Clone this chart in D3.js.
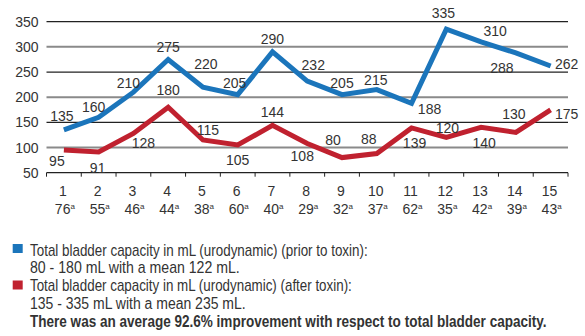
<!DOCTYPE html>
<html><head><meta charset="utf-8">
<script src="https://cdn.jsdelivr.net/npm/d3@7"></script>
<style>
html,body{margin:0;padding:0;background:#fff;}
svg{display:block;}
text{font-family:"Liberation Sans",Arial,sans-serif;fill:#333;}
</style></head><body>
<svg id="chart" width="585" height="336"></svg>
<script>
// ---- data ----
const patients = ["1","2","3","4","5","6","7","8","9","10","11","12","13","14","15"];
const ages = ["76","55","46","44","38","60","40","29","32","37","62","35","42","39","43"];
const bluevalues = [135,160,210,275,220,205,290,232,205,215,188,335,310,288,262];
const redValues = [95,91,128,180,115,105,144,108,80,88,139,120,140,130,175];
const yTicks = [50,100,150,200,250,300,350];
const legendLines = [
  "Total bladder capacity in mL (urodynamic) (prior to toxin):",
  "80 - 180 mL with a mean 122 mL.",
  "Total bladder capacity in mL (urodynamic) (after toxin):",
  "135 - 335 mL with a mean 235 mL."
];
const footnote = "There was an average 92.6% improvement with respect to total bladder capacity.";

// label offsets (placement of value labels relative to their point)
const blueOff = [[-2,-9],[-5,-5],[-5,-4],[0,-7],[3,-18],[-3,-6.5],[0,-8],[6,-11],[0,-6.5],[-1,-4.5],[18,11],[-3,-11.5],[14,-6],[-14,20],[16,3]];
const redOff = [[-7,16],[-1,21],[10,15],[0,-12],[5,-5],[0,20],[0,-8],[-5,17.5],[-9,-12.6],[-8,-9.6],[3,20],[1,-4.5],[3,20.6],[-2,-13.4],[16,9]];
// rendered widths of the condensed legend lines
const legendWidths = [338, 210, 322, 216];
const footWidth = 517;

const BLUE = "#1b75bb", RED = "#c0212f";
const svg = d3.select("#chart");
const x = d3.scaleBand().domain(patients).range([46.5, 568]).padding(0);
const y = d3.scaleLinear().domain([50,350]).range([172.7, 21.7]);
const cx = d => x(d) + x.bandwidth()/2;

// gridlines
svg.append("g").selectAll("line").data(yTicks.filter(v => v > 50)).join("line")
  .attr("x1", 46.5).attr("x2", 568)
  .attr("y1", d => y(d)).attr("y2", d => y(d))
  .attr("stroke", d => (d % 100 === 0) ? "#8a8a8a" : "#222")
  .attr("stroke-width", d => (d % 100 === 0) ? 2 : 1.2);

// y axis labels
const yAxis = d3.axisLeft(y).tickValues(yTicks).tickSize(0).tickPadding(0).tickFormat(d3.format("d"));
const gy = svg.append("g").attr("transform", "translate(38.5,0)").call(yAxis);
gy.select(".domain").remove();
gy.selectAll("text").attr("font-size", 14).attr("fill", "#333")
  .style("font-family", '"Liberation Sans",Arial,sans-serif');

// x axis line and ticks at band boundaries
const bounds = patients.map(p => x(p)).concat([x.range()[1]]);
svg.append("line").attr("x1", 46.5).attr("x2", 568).attr("y1", y(50)).attr("y2", y(50))
  .attr("stroke", "#222").attr("stroke-width", 1.2);
svg.append("g").selectAll("line").data(bounds).join("line")
  .attr("x1", d => d).attr("x2", d => d).attr("y1", y(50)).attr("y2", y(50) + 4)
  .attr("stroke", "#222").attr("stroke-width", 1);

// category labels
const cat = svg.append("g").selectAll("g").data(patients).join("g");
cat.append("text").attr("x", d => cx(d) - 1).attr("y", 196).attr("text-anchor", "middle")
  .attr("font-size", 14).text(d => d);
const ageT = cat.append("text").attr("x", (d) => cx(d) + 1).attr("y", 214).attr("text-anchor", "middle")
  .attr("font-size", 14);
ageT.append("tspan").text((d, i) => ages[i]);
ageT.append("tspan").attr("font-size", 8).attr("dy", -5).text("a");

// lines
const line = d3.line().x((d, i) => cx(patients[i])).y(d => y(d)).curve(d3.curveLinear);
svg.append("path").datum(bluevalues).attr("d", line).attr("fill", "none")
  .attr("stroke", BLUE).attr("stroke-width", 5).attr("stroke-linejoin", "miter");
svg.append("path").datum(redValues).attr("d", line).attr("fill", "none")
  .attr("stroke", RED).attr("stroke-width", 5).attr("stroke-linejoin", "miter");

// value labels
function labels(vals, off) {
  svg.append("g").selectAll("text").data(vals).join("text")
    .attr("x", (d, i) => cx(patients[i]) + off[i][0])
    .attr("y", (d, i) => y(d) + off[i][1])
    .attr("text-anchor", "middle").attr("font-size", 14).text(d => d);
}
labels(bluevalues, blueOff);
labels(redValues, redOff);

// legend (condensed by horizontal scaling to the reference widths)
const lg = svg.append("g");
lg.append("rect").attr("x", 12.7).attr("y", 244).attr("width", 10).attr("height", 9).attr("fill", BLUE);
lg.append("rect").attr("x", 12.7).attr("y", 280.5).attr("width", 10).attr("height", 9).attr("fill", RED);
const lBase = [255.5, 272.5, 291, 308.5];
function condensed(str, yy, w, bold) {
  const t = lg.append("text").attr("x", 0).attr("y", 0).attr("font-size", 16).text(str);
  if (bold) t.attr("font-weight", "bold").attr("fill", "#222");
  const natural = t.node().getComputedTextLength();
  t.attr("transform", `translate(30,${yy}) scale(${w / natural},1)`);
}
legendLines.forEach((s, i) => condensed(s, lBase[i], legendWidths[i], false));
condensed(footnote, 326.5, footWidth, true);
</script>
</body></html>
